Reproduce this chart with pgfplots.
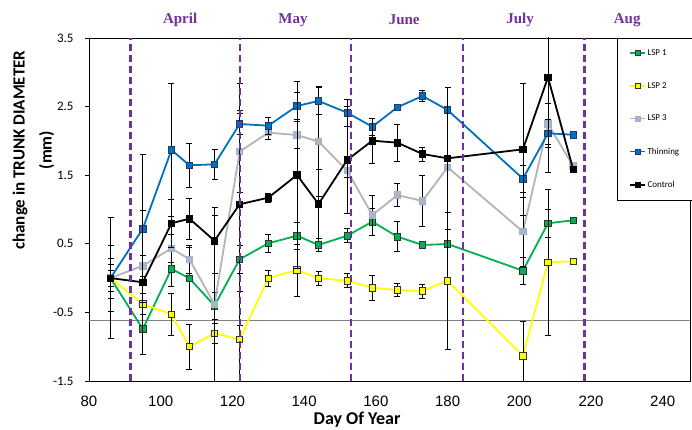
\documentclass[border=0pt]{standalone}
\usepackage{fontspec}
\setmainfont{Carlito}
\newfontfamily\timesf{Liberation Serif}
\newfontfamily\arialf{Liberation Sans}
\usepackage{pgfplots}
\pgfplotsset{compat=1.18}
\definecolor{lspone}{HTML}{00B050}
\definecolor{lsptwo}{HTML}{FFFF00}
\definecolor{lspthree}{HTML}{B4B4B4}
\definecolor{lspthreeedge}{HTML}{8EB4E3}
\definecolor{thinc}{HTML}{0070C0}
\definecolor{thinedge}{HTML}{1F3864}
\definecolor{monthc}{HTML}{7030A0}
\begin{document}
\begin{tikzpicture}
\path[use as bounding box] (-89pt,-49pt) rectangle (603pt,381pt);
\begin{axis}[
  at={(0,0)}, anchor=south west,
  scale only axis, width=601pt, height=343pt,
  xmin=80, xmax=247.6, ymin=-1.5, ymax=3.5,
  xtick={80,100,...,240},
  ytick={-1.5,-0.5,0.5,1.5,2.5,3.5},
  /pgf/number format/.cd, fixed, precision=1, assume math mode=true,
  /pgfplots/.cd,
  axis line style={black, line width=0.8pt},
  tick align=outside, ytick pos=left, xtick pos=bottom,
  xtick style={draw=none},
  ytick style={black, line width=0.6pt},
  major tick length=4pt,
  xticklabel style={font=\arialf\fontsize{15}{15}\selectfont, anchor=center, yshift=-16pt},
  yticklabel style={font=\fontsize{13}{13}\selectfont, xshift=-8pt},
  xlabel={Day Of Year},
  every axis x label/.style={at={(axis description cs:0.446,-0.1137)}, anchor=center, font=\bfseries\fontsize{18}{18}\selectfont},
  ylabel={change in TRUNK DIAMETER\\(mm)},
  every axis y label/.style={at={(axis description cs:-0.0923,0.673)}, rotate=90, anchor=center, align=center, font=\bfseries\fontsize{17}{27}\selectfont},
  clip mode=individual,
  every axis plot/.append style={line width=1.8pt},
  legend style={at={(0.8785,1)}, anchor=north west, draw=black, line width=0.8pt, fill=white,
    font=\fontsize{9}{9}\selectfont, row sep=21.5pt, inner xsep=12pt, inner ysep=9pt},
  legend cell align=left,
  legend image code/.code={\draw[mark repeat=2,mark phase=2] plot coordinates {(0pt,0pt) (7.5pt,0pt) (15pt,0pt)};},
  legend image post style={line width=1.2pt, mark size=2.5pt},
  error bars/y dir=both, error bars/y explicit,
  error bars/error bar style={black, line width=0.7pt, solid},
  error bars/error mark options={black, line width=0.7pt, mark size=3pt, rotate=90},
]
% grey horizontal reference line
\addplot[forget plot, gray, line width=0.7pt, error bars/y dir=none] coordinates {(80,-0.61) (247.6,-0.61)};

% LSP 1
\addplot[lspone, mark=square*, mark size=3.2pt, mark options={fill=lspone, draw=black!80, line width=0.7pt}]
coordinates {
(86,0) +- (0,0.48)
(95,-0.742) +- (0,0.37)
(103,0.133) +- (0,0.25)
(108,-0.003) +- (0,0.45)
(115,-0.402) +- (0,0.2)
(122,0.274) +- (0,0.2)
(130,0.507) +- (0,0.13)
(138,0.618) +- (0,0.2)
(144,0.483) +- (0,0.1)
(152,0.618) +- (0,0.1)
(159,0.822) +- (0,0.2)
(166,0.604) +- (0,0.22)
(173,0.483) +- (0,0.05)
(180,0.497) +- (0,0.05)
(201,0.108) +- (0,0.2)
(208,0.799) +- (0,0.2)
(215,0.843) +- (0,0)
};
\addlegendentry{LSP 1}

% LSP 2
\addplot[lsptwo, mark=square*, mark size=3.2pt, mark options={fill=lsptwo, draw=black!80, line width=0.7pt}]
coordinates {
(86,0) +- (0,0.2)
(95,-0.378) +- (0,0.15)
(103,-0.528) +- (0,0.3)
(108,-0.999) +- (0,0.33)
(115,-0.805) +- (0,0.15)
(122,-0.892) +- (0,0.7)
(130,0.0) +- (0,0.12)
(138,0.118) +- (0,0.38)
(144,-0.003) +- (0,0.1)
(152,-0.038) +- (0,0.1)
(159,-0.14) +- (0,0.18)
(166,-0.173) +- (0,0.1)
(173,-0.188) +- (0,0.1)
(180,-0.038) +- (0,1.0)
(201,-1.131) +- (0,0.5)
(208,0.23) +- (0,1.07)
(215,0.245) +- (0,0)
};
\addlegendentry{LSP 2}

% LSP 3
\addplot[lspthree, mark=square*, mark size=3.2pt, mark options={fill=lspthree, draw=lspthreeedge, line width=0.9pt}]
coordinates {
(86,0) +- (0,0.29)
(95,0.18) +- (0,0.15)
(103,0.434) +- (0,0.2)
(108,0.274) +- (0,0.2)
(115,-0.382) +- (0,1.3)
(122,1.843) +- (0,0.6)
(130,2.12) +- (0,0.1)
(138,2.086) +- (0,0.2)
(144,1.99) +- (0,0.8)
(152,1.566) +- (0,0.1)
(159,0.92) +- (0,0.29)
(166,1.21) +- (0,0.17)
(173,1.124) +- (0,0.37)
(180,1.615) +- (0,0)
(201,0.677) +- (0,0.5)
(208,2.246) +- (0,0.3)
(215,1.634) +- (0,0)
};
\addlegendentry{LSP 3}

% Thinning
\addplot[thinc, mark=square*, mark size=3.2pt, mark options={fill=thinc, draw=thinedge, line width=0.7pt}]
coordinates {
(86,0) +- (0,0.12)
(95,0.72) +- (0,1.08)
(103,1.867) +- (0,0.97)
(108,1.644) +- (0,0.32)
(115,1.659) +- (0,0.22)
(122,2.246) +- (0,0.15)
(130,2.222) +- (0,0.12)
(138,2.509) +- (0,0.2)
(144,2.582) +- (0,0.2)
(152,2.411) +- (0,0.2)
(159,2.207) +- (0,0.12)
(166,2.49) +- (0,0.05)
(173,2.655) +- (0,0.08)
(180,2.45) +- (0,0)
(201,1.449) +- (0,0.2)
(208,2.11) +- (0,0.2)
(215,2.09) +- (0,0)
};
\addlegendentry{Thinning}

% Control
\addplot[black, mark=square*, mark size=3.2pt, mark options={fill=black, draw=black, line width=0.7pt}]
coordinates {
(86,0) +- (0,0.88)
(95,-0.061) +- (0,1.05)
(103,0.799) +- (0,0.35)
(108,0.866) +- (0,0.3)
(115,0.545) +- (0,0.48)
(122,1.076) +- (0,1.76)
(130,1.172) +- (0,0.07)
(138,1.503) +- (0,1.36)
(144,1.08) +- (0,0.5)
(152,1.722) +- (0,0.78)
(159,2.003) +- (0,0.33)
(166,1.974) +- (0,0.27)
(173,1.809) +- (0,0.1)
(180,1.746) +- (0,1.03)
(201,1.877) +- (0,0.96)
(208,2.927) +- (0,1.38)
(215,1.586) +- (0,0)
};
\addlegendentry{Control}

% month boundaries
\pgfplotsset{monthline/.style={forget plot, monthc, line width=2.2pt, dash pattern=on 7pt off 4pt, error bars/y dir=none}}
\addplot[monthline] coordinates {(91.6,-1.5) (91.6,3.5)};
\addplot[monthline] coordinates {(122.1,-1.5) (122.1,3.5)};
\addplot[monthline] coordinates {(153,-1.5) (153,3.5)};
\addplot[monthline] coordinates {(184.2,-1.5) (184.2,3.5)};
\addplot[monthline] coordinates {(218.2,-1.5) (218.2,3.5)};

\node[font=\timesf\bfseries\fontsize{15}{15}\selectfont, text=monthc, yshift=18pt] at (axis cs:105.4,3.5) {April};
\node[font=\timesf\bfseries\fontsize{15}{15}\selectfont, text=monthc, yshift=18pt] at (axis cs:136.9,3.5) {May};
\node[font=\timesf\bfseries\fontsize{15}{15}\selectfont, text=monthc, yshift=18pt] at (axis cs:167.9,3.5) {June};
\node[font=\timesf\bfseries\fontsize{15}{15}\selectfont, text=monthc, yshift=18pt] at (axis cs:200.2,3.5) {July};
\node[font=\timesf\bfseries\fontsize{15}{15}\selectfont, text=monthc, yshift=18pt] at (axis cs:230.1,3.5) {Aug};
\end{axis}
\end{tikzpicture}
\end{document}
